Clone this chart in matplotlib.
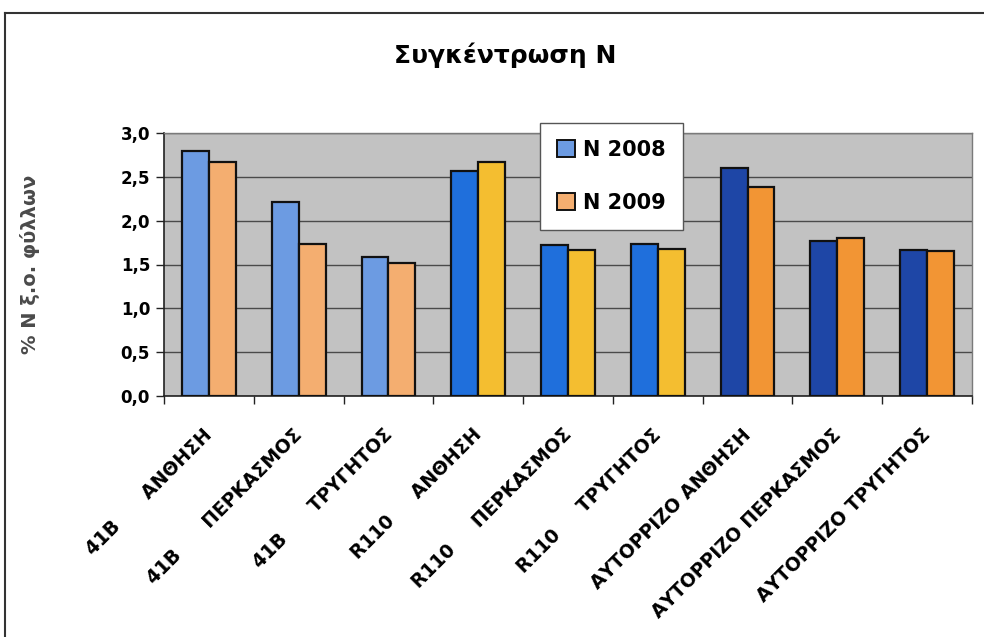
import matplotlib
matplotlib.use("Agg")
import matplotlib.pyplot as plt
import matplotlib.transforms as mtransforms
from matplotlib.patches import Patch
from matplotlib.lines import Line2D
import numpy as np

plt.rcParams['font.family'] = ['DejaVu Sans']

categories = [
    "41B      ΑΝΘΗΣΗ",
    "41B      ΠΕΡΚΑΣΜΟΣ",
    "41B      ΤΡΥΓΗΤΟΣ",
    "R110     ΑΝΘΗΣΗ",
    "R110     ΠΕΡΚΑΣΜΟΣ",
    "R110     ΤΡΥΓΗΤΟΣ",
    "ΑΥΤΟΡΡΙΖΟ ΑΝΘΗΣΗ",
    "ΑΥΤΟΡΡΙΖΟ ΠΕΡΚΑΣΜΟΣ",
    "ΑΥΤΟΡΡΙΖΟ ΤΡΥΓΗΤΟΣ",
]
n2008 = [2.80, 2.21, 1.59, 2.57, 1.72, 1.73, 2.60, 1.77, 1.67]
n2009 = [2.67, 1.73, 1.52, 2.67, 1.67, 1.675, 2.38, 1.80, 1.655]
series_labels = ["N 2008", "N 2009"]
y_ticks = [0.0, 0.5, 1.0, 1.5, 2.0, 2.5, 3.0]

# one colour pair per rootstock group
colors_2008 = ["#6C9BE2"] * 3 + ["#1F6FDC"] * 3 + ["#1E46A6"] * 3
colors_2009 = ["#F4AE70"] * 3 + ["#F4BE30"] * 3 + ["#F29534"] * 3

fig = plt.figure(figsize=(9.84, 6.37), dpi=100)
ax = fig.add_axes([164 / 984, 1 - 396 / 637, (972 - 164) / 984, (396 - 133) / 637])
ax.set_facecolor("#C2C2C2")

x = np.arange(len(categories))
w = 0.30
ax.bar(x - w / 2, n2008, width=w, color=colors_2008, edgecolor="#111111",
       linewidth=1.6, zorder=3)
ax.bar(x + w / 2, n2009, width=w, color=colors_2009, edgecolor="#111111",
       linewidth=1.6, zorder=3)

ax.set_xlim(-0.5, len(categories) - 0.5)
ax.set_ylim(0, 3.0)
ax.set_yticks(y_ticks)
ax.set_yticklabels([f"{v:.1f}".replace(".", ",") for v in y_ticks],
                   fontsize=12, fontweight="bold")
ax.yaxis.grid(True, color="#4A4A4A", linewidth=1.0, zorder=1)
ax.set_axisbelow(True)

# category ticks between groups
ax.set_xticks(np.arange(len(categories) + 1) - 0.5)
ax.set_xticklabels([])
ax.tick_params(axis="x", which="major", length=6, width=1, direction="out",
               color="#222222")
ax.tick_params(axis="y", length=6, width=1, direction="out", color="#222222",
               pad=4)

# slanted category names, anchored just below each pair of bars
label_offset = mtransforms.ScaledTranslation(-6 / 100, -29 / 100,
                                             fig.dpi_scale_trans)
for xi, name in zip(x, categories):
    ax.text(xi, 0, name, transform=ax.transData + label_offset,
            rotation=45, ha="right", va="top", rotation_mode="anchor",
            fontsize=13.5, fontweight="bold", clip_on=False)

for side in ("top", "right"):
    ax.spines[side].set_color("#7A7A7A")
    ax.spines[side].set_linewidth(1.0)
for side in ("left", "bottom"):
    ax.spines[side].set_color("#222222")
    ax.spines[side].set_linewidth(1.2)

ax.set_ylabel("% Ν ξ.ο. φύλλων", fontsize=14, fontweight="bold",
              color="#4A4A4A")
ax.yaxis.set_label_coords((40 - 164) / 808, 0.5)

fig.text(505 / 984, 1 - 55 / 637, "Συγκέντρωση Ν", ha="center", va="center",
         fontsize=18, fontweight="bold")

handles = [Patch(facecolor=colors_2008[0], edgecolor="#111111", linewidth=1.4),
           Patch(facecolor=colors_2009[0], edgecolor="#111111", linewidth=1.4)]
leg = fig.legend(handles, series_labels, loc="upper left",
                 bbox_to_anchor=(540 / 984, 1 - 123 / 637), borderaxespad=0,
                 prop={"weight": "bold", "size": 15},
                 handlelength=0.87, handleheight=0.87, handletextpad=0.4,
                 labelspacing=1.6, borderpad=0.8, fancybox=False,
                 framealpha=1, edgecolor="#555555")
leg.get_frame().set_linewidth(1.0)

# outer chart border (top and left edges)
fig.add_artist(Line2D([5 / 984, 1.0], [1 - 13 / 637, 1 - 13 / 637],
                      color="#333333", linewidth=1.5))
fig.add_artist(Line2D([5 / 984, 5 / 984], [0.0, 1 - 13 / 637],
                      color="#333333", linewidth=1.5))

fig.savefig("out.png", dpi=100)
